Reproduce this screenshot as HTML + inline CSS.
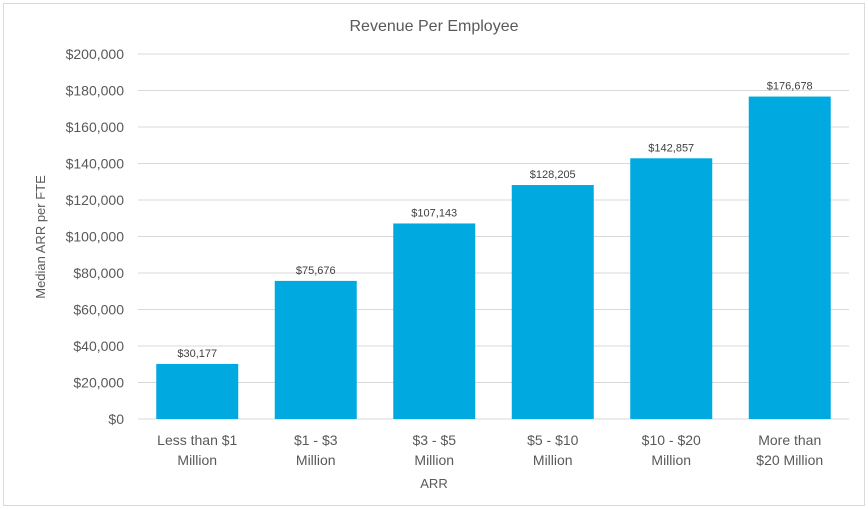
<!DOCTYPE html>
<html><head><meta charset="utf-8"><style>
body{margin:0;background:#fff;}
svg{display:block;font-family:"Liberation Sans",sans-serif;}
</style></head><body>
<svg width="868" height="509">
<rect x="3.5" y="3.5" width="861" height="502" fill="#fff" stroke="#d9d9d9"/>
<text x="434" y="31" text-anchor="middle" font-size="16" fill="#595959">Revenue Per Employee</text>
<g id="grid"></g><g id="ylab"></g><g id="bars"></g><g id="xlab"></g>
<text x="434" y="488" text-anchor="middle" font-size="13" fill="#595959">ARR</text>
<text transform="translate(45,237) rotate(-90)" text-anchor="middle" font-size="13" fill="#595959">Median ARR per FTE</text>
</svg>
<script>
const categories=[["Less than $1","Million"],["$1 - $3","Million"],["$3 - $5","Million"],["$5 - $10","Million"],["$10 - $20","Million"],["More than","$20 Million"]];
const values=[30177,75676,107143,128205,142857,176678];
const ticks=[0,20000,40000,60000,80000,100000,120000,140000,160000,180000,200000];
const NS="http://www.w3.org/2000/svg";
const L=138,R=849,Y0=419,Y1=54,MAX=200000;
const y=v=>Y0-(Y0-Y1)*v/MAX;
const bw=(R-L)/categories.length;
const fmt=v=>"$"+v.toLocaleString("en-US");
function mk(t,a,p,txt){const e=document.createElementNS(NS,t);for(const k in a)e.setAttribute(k,a[k]);if(txt!==undefined)e.textContent=txt;document.getElementById(p).appendChild(e);return e;}
ticks.forEach(t=>{
 const g=mk("line",{x1:L,x2:R,y1:y(t),y2:y(t),stroke:"#d9d9d9","stroke-width":1},"grid");
 
 
 const l=mk("text",{x:124,y:y(t)+5,"text-anchor":"end","font-size":"14",fill:"#595959"},"ylab",fmt(t));
 
 
});
values.forEach((v,i)=>{
 const cx=L+bw*(i+0.5);
 const b=mk("rect",{x:cx-41,y:y(v),width:82,height:Y0-y(v),fill:"#00a9e0"},"bars");
 
 
 const d=mk("text",{x:cx,y:y(v)-7,"text-anchor":"middle","font-size":"11",fill:"#404040"},"bars",fmt(v));
 
 
 categories[i].forEach((s,j)=>{
  const c=mk("text",{x:cx,y:445+j*20,"text-anchor":"middle","font-size":"14",fill:"#595959"},"xlab",s);
  
  
 });
});
</script>
</body></html>
